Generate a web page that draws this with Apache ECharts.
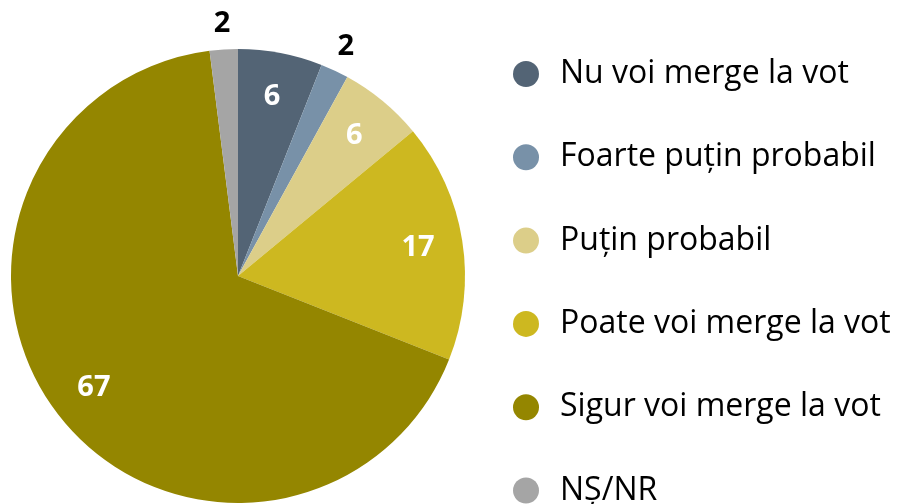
<!DOCTYPE html>
<html>
<head>
<meta charset="utf-8">
<script src="https://cdn.jsdelivr.net/npm/echarts@6/dist/echarts.min.js"></script>
<style>
  html, body { margin: 0; padding: 0; background: #fff; }
  #chart { width: 901px; height: 504px; }
</style>
</head>
<body>
<div id="chart"></div>
<script>
var categories = ['Nu voi merge la vot', 'Foarte puțin probabil', 'Puțin probabil',
  'Poate voi merge la vot', 'Sigur voi merge la vot', 'NȘ/NR']
var values = [6, 2, 6, 17, 67, 2]
var colors = ['#536475', '#7891A8', '#DCCE89', '#CDB820', '#948600', '#A5A5A5']
// small slices get their label outside the pie
var outsideLabel = [false, true, false, false, false, true]

var R = 227
var center = [238, 276]
var font = '"Open Sans", sans-serif'

var chart = echarts.init(document.getElementById('chart'))

function ringData() {
  return categories.map(function(name, i) {
    return { name: name, value: values[i] }
  })
}

chart.setOption({
  backgroundColor: '#fff',
  animation: false,
  color: colors,
  legend: {
    orient: 'vertical',
    left: 513,
    top: 58,
    height: 470,
    padding: 0,
    icon: 'circle',
    itemWidth: 26,
    itemHeight: 26,
    itemGap: 51.3,
    data: categories,
    textStyle: {
      fontFamily: font,
      fontSize: 32,
      lineHeight: 26,
      color: '#000',
      padding: [0, 0, 0, 16]
    }
  },
  series: [{
    type: 'pie',
    center: center,
    radius: R,
    startAngle: 90,
    clockwise: true,
    label: { show: false },
    labelLine: { show: false },
    itemStyle: { borderWidth: 0 },
    data: ringData()
  }, {
    // inner labels (white)
    type: 'pie',
    center: center,
    radius: [R * 0.58, R],
    startAngle: 90,
    silent: true,
    itemStyle: { color: 'transparent' },
    label: {
      position: 'inside',
      color: '#fff',
      fontFamily: font,
      fontWeight: 'bold',
      fontSize: 29,
      formatter: function(p) { return outsideLabel[p.dataIndex] ? '' : p.value }
    },
    labelLine: { show: false },
    data: ringData()
  }, {
    // outer labels (black) for thin slices
    type: 'pie',
    center: center,
    radius: [R, R + 46],
    startAngle: 90,
    silent: true,
    itemStyle: { color: 'transparent' },
    label: {
      position: 'inside',
      color: '#000',
      fontFamily: font,
      fontWeight: 'bold',
      fontSize: 29,
      formatter: function(p) { return outsideLabel[p.dataIndex] ? p.value : '' }
    },
    labelLine: { show: false },
    data: ringData()
  }]
})
</script>
</body>
</html>
